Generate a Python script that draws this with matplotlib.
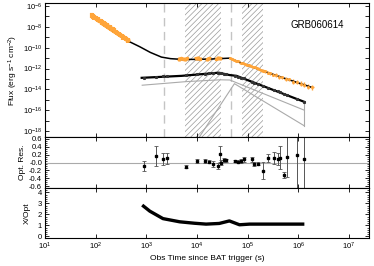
import numpy as np
import matplotlib
matplotlib.use('Agg')
import matplotlib.pyplot as plt
from matplotlib.ticker import FixedLocator, MultipleLocator

plt.rcParams['font.family'] = ['Liberation Sans', 'DejaVu Sans']
plt.rcParams['hatch.linewidth'] = 0.5
plt.rcParams['mathtext.default'] = 'regular'

# X-ray data (log t, log flux, log err)
xr_steep_t = [1.92, 1.95, 1.97, 2.00, 2.03, 2.05, 2.08, 2.10, 2.13, 2.16, 2.19, 2.22, 2.25,
              2.28, 2.31, 2.34, 2.37, 2.40, 2.43, 2.46, 2.49, 2.52, 2.55, 2.58, 2.61, 2.64]
xr_steep_f = [-6.90, -6.98, -7.08, -7.12, -7.25, -7.30, -7.42, -7.45, -7.58, -7.65, -7.78, -7.85, -7.98,
              -8.05, -8.18, -8.25, -8.35, -8.48, -8.58, -8.65, -8.78, -8.88, -9.00, -9.08, -9.18, -9.30]
xr_plat_t = [3.64, 3.68, 3.72, 3.76, 3.80, 3.98, 4.02, 4.06, 4.20, 4.24, 4.38, 4.42, 4.46]
xr_plat_f = [-11.08, -11.02, -11.05, -11.10, -11.00, -11.02, -10.98, -11.05, -11.10, -11.00, -11.05, -10.95, -11.00]
xr_dec_t = [4.66, 4.70, 4.74, 4.78, 4.82, 4.86, 4.90, 4.94, 4.98, 5.02, 5.06, 5.10, 5.14, 5.18, 5.22, 5.26,
            5.30, 5.35, 5.40, 5.45, 5.50, 5.56, 5.62, 5.68, 5.75, 5.82, 5.90, 5.97, 6.05, 6.12, 6.20, 6.28]
xr_dec_f = [-11.02, -11.08, -11.15, -11.25, -11.30, -11.42, -11.50, -11.55, -11.62, -11.70, -11.76, -11.85,
            -11.88, -11.98, -12.05, -12.12, -12.20, -12.28, -12.40, -12.45, -12.60, -12.62, -12.80, -12.85,
            -13.00, -13.05, -13.25, -13.30, -13.45, -13.55, -13.75, -13.80]
xr_dec_e = [0.06, 0.06, 0.07, 0.07, 0.08, 0.08, 0.08, 0.09, 0.09, 0.10, 0.10, 0.10, 0.11, 0.11, 0.12, 0.12,
            0.13, 0.13, 0.14, 0.14, 0.15, 0.15, 0.16, 0.17, 0.18, 0.18, 0.20, 0.20, 0.22, 0.24, 0.25, 0.25]

# X-ray model (log t, log flux)
xmod_t = [1.95, 2.63, 2.87, 3.08, 3.30, 3.48, 3.70, 4.00, 4.30, 4.65, 4.84, 5.43, 6.25]
xmod_f = [-7.02, -9.33, -9.90, -10.45, -10.90, -11.05, -11.12, -11.12, -11.08, -11.00, -11.40, -12.45, -13.78]

# optical model total and components
omod_t = [2.91, 3.70, 4.43, 4.64, 4.78, 6.12]
omod_f = [-12.89, -12.70, -12.40, -12.62, -12.70, -15.20]
comp1_t = [2.92, 3.80, 4.46, 4.65, 6.12]
comp1_f = [-13.60, -13.25, -13.08, -13.10, -16.00]
comp2_t = [3.95, 4.74, 6.12]
comp2_f = [-19.30, -13.45, -17.50]

# optical data and residuals
opt_t = [2.96, 3.19, 3.34, 3.40, 3.79, 4.00, 4.15, 4.23, 4.32, 4.41, 4.45, 4.47, 4.53, 4.58, 4.75,
         4.82, 4.87, 4.92, 5.08, 5.13, 5.20, 5.31, 5.40, 5.52, 5.59, 5.64, 5.72, 5.77, 5.98, 6.11]
opt_f = [-12.88, -12.78, -12.74, -12.71, -12.62, -12.53, -12.48, -12.46, -12.44, -12.42, -12.39, -12.43,
         -12.49, -12.56, -12.68, -12.77, -12.87, -12.95, -13.25, -13.36, -13.48, -13.71, -13.84, -14.06,
         -14.20, -14.29, -14.49, -14.54, -14.92, -15.17]
res = [-0.085, 0.165, 0.08, 0.11, -0.11, 0.04, 0.04, 0.025, -0.03, -0.085, 0.21, 0.0, 0.06, 0.06, 0.04,
       0.025, 0.04, 0.08, 0.08, -0.04, -0.025, -0.21, 0.125, 0.125, 0.08, 0.125, -0.31, 0.14, 0.19, 0.08]
res_err = [0.125, 0.25, 0.15, 0.14, 0.04, 0.05, 0.04, 0.04, 0.08, 0.08, 0.2, 0.07, 0.05, 0.04, 0.03,
           0.03, 0.04, 0.06, 0.06, 0.05, 0.04, 0.22, 0.1, 0.15, 0.15, 0.29, 0.08, 0.5, 2.0, 2.0]

# X-ray / optical ratio
ratio_t = [2.92, 3.07, 3.33, 3.66, 3.95, 4.18, 4.44, 4.64, 4.84, 5.04, 6.12]
ratio_v = [2.85, 2.30, 1.62, 1.33, 1.20, 1.12, 1.18, 1.41, 1.06, 1.12, 1.12]

dashed_t = [2200, 48000]
hatch_spans = [(5900, 30000), (78000, 200000)]

orange = '#FFA53A'
p = lambda a: 10 ** np.array(a)

fig = plt.figure(figsize=(3.74, 2.66), dpi=100)
L, W = 0.12, 0.867
ax1 = fig.add_axes([L, 0.485, W, 0.504])
ax2 = fig.add_axes([L, 0.293, W, 0.192], sharex=ax1)
ax3 = fig.add_axes([L, 0.105, W, 0.188], sharex=ax1)

for a, b in hatch_spans:
    ax1.axvspan(a, b, facecolor='none', edgecolor='#999999', hatch='//////', lw=0)
for t in dashed_t:
    ax1.axvline(t, color='#C4C4C4', ls=(0, (6, 4)), lw=1)

ax1.errorbar(p(xr_steep_t), p(xr_steep_f), yerr=[p(xr_steep_f) * 0.4, p(xr_steep_f) * 0.6],
             xerr=[p(xr_steep_t) * 0.05, p(xr_steep_t) * 0.05],
             fmt='o', ms=2, color=orange, ecolor=orange, elinewidth=3, capsize=0)
ax1.errorbar(p(xr_plat_t), p(xr_plat_f), yerr=[p(xr_plat_f) * 0.3, p(xr_plat_f) * 0.4],
             xerr=[p(xr_plat_t) * 0.07, p(xr_plat_t) * 0.07],
             fmt='o', ms=1.5, color=orange, ecolor=orange, elinewidth=2, capsize=0)
de = np.array(xr_dec_e)
ax1.errorbar(p(xr_dec_t), p(xr_dec_f),
             yerr=[p(xr_dec_f) * (1 - 10 ** -de), p(xr_dec_f) * (10 ** de - 1)],
             xerr=[p(xr_dec_t) * 0.06, p(xr_dec_t) * 0.06],
             fmt='o', ms=1.2, color=orange, ecolor=orange, elinewidth=1, capsize=0)

ax1.plot(p(xmod_t), p(xmod_f), color='black', lw=1.1)
ax1.plot(p(comp1_t), p(comp1_f), color='#AAAAAA', lw=0.8)
ax1.plot(p(comp2_t), p(comp2_f), color='#AAAAAA', lw=0.8)
ax1.plot([p(6.12)] * 2, [p(-15.2), p(-17.5)], color='#AAAAAA', lw=0.8)
ax1.errorbar(p(opt_t), p(opt_f), yerr=p(opt_f) * 0.15, fmt='s', ms=1.2, color='#333333',
             ecolor='#777777', elinewidth=0.6, capsize=0)
ax1.plot(p(omod_t), p(omod_f), color='black', lw=1.6)

ax1.set_xscale('log')
ax1.set_yscale('log')
ax1.set_xlim(10, 2.5e7)
ax1.set_ylim(10 ** -18.57, 10 ** -5.7)
ax1.yaxis.set_major_locator(FixedLocator([10.0 ** k for k in range(-18, -5)]))
ax1.yaxis.set_minor_locator(FixedLocator([]))
ax1.set_yticklabels(['$10^{%d}$' % k if k % 2 == 0 else '' for k in range(-18, -5)])
ax1.set_ylabel('Flux (erg s$^{-1}$ cm$^{-2}$)', fontsize=6, labelpad=2)
ax1.text(0.84, 0.836, 'GRB060614', transform=ax1.transAxes, ha='center', va='center', fontsize=7)

ax2.axhline(0, color='#AAAAAA', lw=0.8)
ax2.errorbar(p(opt_t), res, yerr=res_err, fmt='s', ms=1.5, color='black',
             ecolor='#555555', elinewidth=0.7, capsize=1.5, capthick=0.6)
ax2.set_ylim(-0.65, 0.65)
ax2.set_yticks([0.6, 0.4, 0.2, 0.0, -0.2, -0.4, -0.6])
ax2.set_yticklabels(['0.6', '0.4', '0.2', '-0.0', '-0.2', '-0.4', '-0.6'])
ax2.yaxis.set_minor_locator(MultipleLocator(0.05))
ax2.set_ylabel('Opt. Res.', fontsize=6, labelpad=2)

ax3.plot(p(ratio_t), ratio_v, color='black', lw=2.4, solid_capstyle='butt')
ax3.set_ylim(-0.15, 4.4)
ax3.set_yticks([0, 1, 2, 3, 4])
ax3.yaxis.set_minor_locator(MultipleLocator(0.2))
ax3.set_ylabel('X/Opt', fontsize=6, labelpad=5)
ax3.set_xlabel('Obs Time since BAT trigger (s)', fontsize=6, labelpad=2)

ax1.xaxis.set_major_locator(FixedLocator([10.0 ** k for k in range(1, 8)]))
ax1.xaxis.set_minor_locator(FixedLocator([]))
for a in (ax1, ax2, ax3):
    a.tick_params(which='both', direction='in', top=True, right=True, labelsize=5.5, pad=2)
    a.tick_params(which='major', length=3, width=0.6)
    a.tick_params(which='minor', length=1.5, width=0.5)
    for s in a.spines.values():
        s.set_linewidth(0.8)
plt.setp(ax1.get_xticklabels(), visible=False)
plt.setp(ax2.get_xticklabels(), visible=False)
ax3.set_xticklabels(['$10^{%d}$' % k for k in range(1, 8)])

fig.savefig('out.png', dpi=100)
